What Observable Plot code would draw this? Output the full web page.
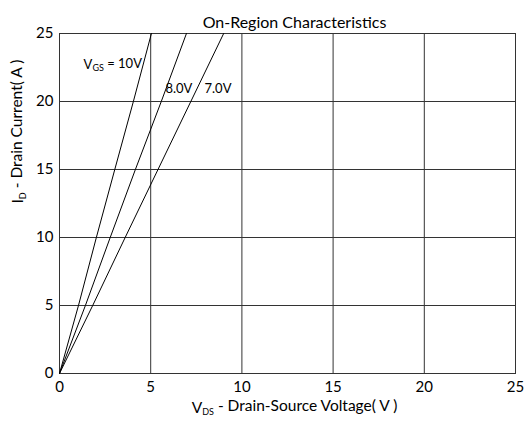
<!DOCTYPE html>
<html>
<head>
<meta charset="utf-8">
<script src="https://cdn.jsdelivr.net/npm/d3@7"></script>
<script src="https://cdn.jsdelivr.net/npm/@observablehq/plot@0.6"></script>
<style>
  html, body { margin: 0; padding: 0; background: #fff; }
  svg { font-family: Lato, "Open Sans", sans-serif; }
</style>
</head>
<body>
<div id="chart"></div>
<script>
// Drain current samples (A)
const current = [0, 5, 10, 15, 20, 25];
// Drain-source voltage for each VGS curve (V)
const vds10 = [0, 1.04, 2.02, 3.03, 4.05, 5.04];
const vds8 = [0, 1.42, 2.78, 4.16, 5.58, 6.96];
const vds7 = [0, 1.82, 3.6, 5.4, 7.2, 9.0];
const seriesNames = ["10V", "8.0V", "7.0V"];
const xTicks = [0, 5, 10, 15, 20, 25];
const yTicks = [0, 5, 10, 15, 20, 25];
const gridX = [5, 10, 15, 20];
const gridY = [5, 10, 15, 20];
// Curve labels: [text, VDS, ID]
const labelNames = ["VGS = 10V", "8.0V", "7.0V"];
const labelX = [1.32, 5.81, 7.95];
const labelY = [22.7, 20.96, 20.9];

const table = [];
[vds10, vds8, vds7].forEach((arr, s) => {
  arr.forEach((v, i) => table.push({series: seriesNames[s], x: v, y: current[i]}));
});
const labels = labelNames.map((t, i) => ({t, x: labelX[i], y: labelY[i]}));

const plot = Plot.plot({
  width: 525,
  height: 427,
  marginLeft: 59,
  marginRight: 10,
  marginTop: 33,
  marginBottom: 54,
  style: {fontFamily: "Lato, 'Open Sans', sans-serif", fontSize: "15px", color: "#000", background: "#fff"},
  x: {domain: [0, 25], ticks: xTicks, tickSize: 0, tickPadding: 8, label: null},
  y: {domain: [0, 25], ticks: yTicks, tickSize: 0, tickPadding: 6, label: null},
  marks: [
    Plot.ruleX(gridX, {stroke: "#333", strokeWidth: 1}),
    Plot.ruleY(gridY, {stroke: "#333", strokeWidth: 1}),
    Plot.frame({stroke: "#333", strokeWidth: 1}),
    Plot.line(table, {x: "x", y: "y", z: "series", stroke: "#000", strokeWidth: 1}),
    Plot.text(labels, {x: "x", y: "y", text: "t", textAnchor: "start", fontSize: 13, fill: "#000"}),
    Plot.text(["On-Region Characteristics"], {frameAnchor: "top", dy: -17, dx: 7, fontSize: 16, fill: "#000"}),
    Plot.text(["VDS - Drain-Source Voltage( V )"], {frameAnchor: "bottom", dy: 39, dx: 7, fontSize: 15.5, fill: "#000"}),
    Plot.text(["ID - Drain Current( A )"], {frameAnchor: "left", dx: -41, rotate: -90, fontSize: 15.5, fill: "#000"})
  ]
});

function subscriptify(textEl, main, sub, rest) {
  const node = d3.select(textEl);
  node.text(null);
  node.append("tspan").text(main);
  node.append("tspan").attr("font-size", "9px").attr("dy", "0.25em").text(sub);
  node.append("tspan").attr("dy", "-0.25em").text(rest);
}
d3.select(plot).selectAll("text").each(function() {
  const t = this.textContent;
  if (t === "VDS - Drain-Source Voltage( V )") subscriptify(this, "V", "DS", " - Drain-Source Voltage( V )");
  else if (t === "ID - Drain Current( A )") subscriptify(this, "I", "D", " - Drain Current( A )");
  else if (t === "VGS = 10V") subscriptify(this, "V", "GS", " = 10V");
});

document.getElementById("chart").appendChild(plot);
</script>
</body>
</html>
